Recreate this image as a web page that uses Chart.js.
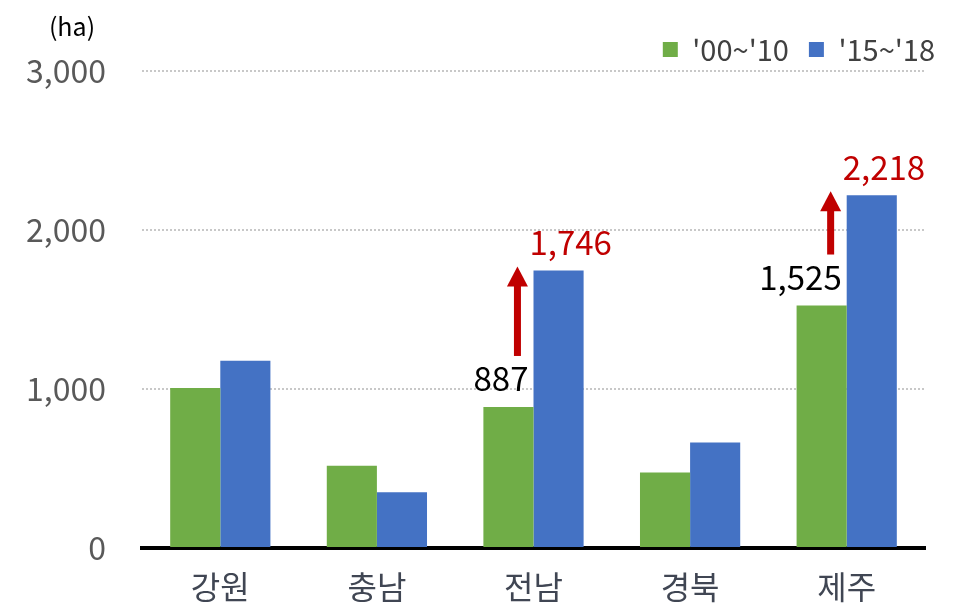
<!DOCTYPE html>
<html>
<head>
<meta charset="utf-8">
<script src="https://cdn.jsdelivr.net/npm/chart.js@4"></script>
<style>
  html, body { margin: 0; padding: 0; background: #fff; }
  #wrap { width: 958px; height: 608px; }
</style>
</head>
<body>
<div id="wrap"><canvas id="chart"></canvas></div>
<script>
// 지역별 면적 (ha)
const regions = ['강원', '충남', '전남', '경북', '제주'];
const series1Label = "'00~'10";
const series2Label = "'15~'18";
const series1 = [1006, 517, 887, 475, 1525];
const series2 = [1178, 350, 1746, 663, 2218];
const yTicks = [0, 1000, 2000, 3000];
const unitLabel = '(ha)';
// 증가 표시(화살표 + 값) 대상 지역
const highlighted = ['전남', '제주'];

const FONT = "'Noto Sans CJK KR', 'Noto Sans', sans-serif";
const RED = '#C00000';

const fmt = v => v.toLocaleString('en-US');

// 범례 위치 미세 조정
const legendShift = {
  id: 'legendShift',
  afterLayout(chart) {
    const lg = chart.legend;
    lg.left += 30;
    lg.right += 30;
    lg.top += 3;
    lg.bottom += 3;
  }
};

// 화살표와 값 라벨
const arrowPlugin = {
  id: 'arrows',
  afterDatasetsDraw(chart) {
    const ctx = chart.ctx;
    const m1 = chart.getDatasetMeta(0).data;
    const m2 = chart.getDatasetMeta(1).data;
    highlighted.forEach(name => {
      const i = regions.indexOf(name);
      const g = m1[i], b = m2[i];
      const gRight = g.x + g.width / 2;
      const bLeft = b.x - b.width / 2;

      ctx.save();
      ctx.font = `33px ${FONT}`;
      ctx.textBaseline = 'alphabetic';
      // 이전 값
      ctx.fillStyle = '#000';
      ctx.textAlign = 'right';
      const lowBase = g.y - 16;
      ctx.fillText(fmt(series1[i]), gRight - 5, lowBase);
      // 최근 값
      ctx.fillStyle = RED;
      ctx.textAlign = 'left';
      ctx.fillText(fmt(series2[i]), bLeft - 4, b.y - 15);

      // 화살표
      const ax = g.x + 9;
      const y0 = lowBase - 24 - 11;
      const y1 = b.y - 4;
      ctx.fillStyle = RED;
      ctx.fillRect(ax - 3.5, y1 + 18, 7, y0 - (y1 + 18));
      ctx.beginPath();
      ctx.moveTo(ax, y1);
      ctx.lineTo(ax + 10.5, y1 + 20);
      ctx.lineTo(ax - 10.5, y1 + 20);
      ctx.closePath();
      ctx.fill();
      ctx.restore();
    });

    // 단위
    ctx.save();
    ctx.font = `25px ${FONT}`;
    ctx.fillStyle = '#000';
    ctx.textAlign = 'center';
    ctx.textBaseline = 'middle';
    ctx.fillText(unitLabel, 72, 26);
    ctx.restore();
  }
};

new Chart(document.getElementById('chart'), {
  type: 'bar',
  data: {
    labels: regions,
    datasets: [
      { label: series1Label, data: series1, backgroundColor: '#70AD47' },
      { label: series2Label, data: series2, backgroundColor: '#4472C4' }
    ]
  },
  options: {
    responsive: true,
    maintainAspectRatio: false,
    animation: false,
    devicePixelRatio: 1,
    datasets: { bar: { categoryPercentage: 0.64, barPercentage: 1.0 } },
    layout: { padding: { top: 12, right: 33, bottom: 0, left: 0 } },
    plugins: {
      legend: {
        position: 'top',
        align: 'end',
        labels: {
          boxWidth: 15, boxHeight: 15,
          padding: 20,
          color: '#404040',
          font: { family: FONT, size: 29 }
        }
      },
      tooltip: { enabled: false }
    },
    scales: {
      x: {
        afterFit(scale) { scale.height = 60; },
        grid: { display: false, drawTicks: false },
        border: { display: true, color: '#000', width: 4 },
        ticks: {
          color: '#404653', padding: 20,
          font: { family: FONT, size: 32 }
        }
      },
      y: {
        min: 0, max: 3000,
        afterFit(scale) { scale.width = 142; },
        afterBuildTicks(scale) { scale.ticks = yTicks.map(v => ({ value: v })); },
        grid: {
          color: '#C8C8C8', lineWidth: 2, drawTicks: false
        },
        border: { display: false, dash: [2, 2] },
        ticks: {
          color: '#595959', padding: 36,
          font: { family: FONT, size: 32 },
          callback: v => fmt(v)
        }
      }
    }
  },
  plugins: [legendShift, arrowPlugin]
});
</script>
</body>
</html>
